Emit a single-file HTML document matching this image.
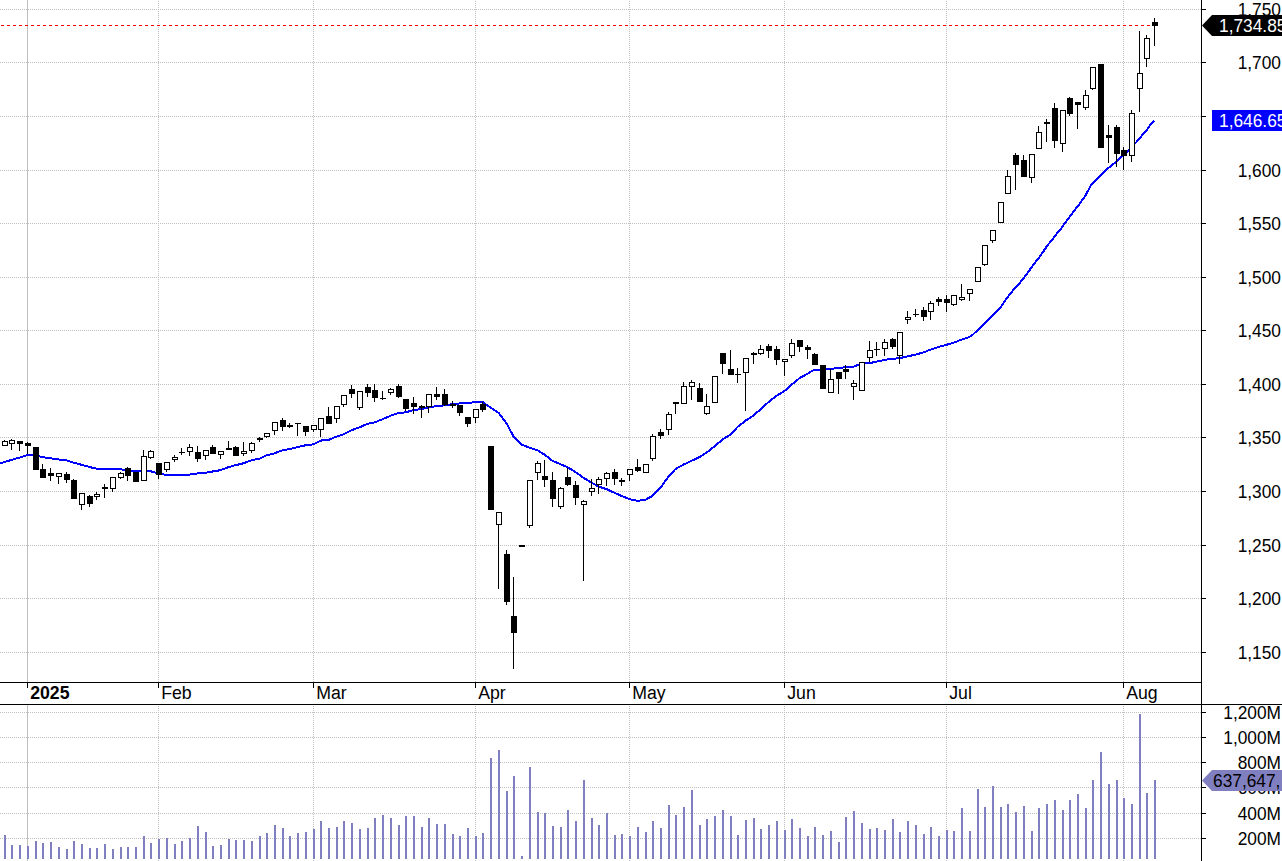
<!DOCTYPE html>
<html><head><meta charset="utf-8"><title>chart</title>
<style>
html,body{margin:0;padding:0;background:#fff;}
body{width:1282px;height:861px;overflow:hidden;position:relative;font-family:"Liberation Sans",sans-serif;}
svg{position:absolute;left:0;top:0;display:block;}
svg text{font-family:"Liberation Sans",sans-serif;}
</style></head><body>
<svg width="1282" height="861" viewBox="0 0 1282 861">
<rect width="1282" height="861" fill="#fff"/>
<g shape-rendering="crispEdges">
<line x1="0" y1="9.5" x2="1201" y2="9.5" stroke="#c0c0c0" stroke-width="1" stroke-dasharray="1 1" stroke-dashoffset="0"/>
<line x1="0" y1="62.5" x2="1201" y2="62.5" stroke="#c0c0c0" stroke-width="1" stroke-dasharray="1 1" stroke-dashoffset="0"/>
<line x1="0" y1="116.5" x2="1201" y2="116.5" stroke="#c0c0c0" stroke-width="1" stroke-dasharray="1 1" stroke-dashoffset="0"/>
<line x1="0" y1="170.5" x2="1201" y2="170.5" stroke="#c0c0c0" stroke-width="1" stroke-dasharray="1 1" stroke-dashoffset="0"/>
<line x1="0" y1="223.5" x2="1201" y2="223.5" stroke="#c0c0c0" stroke-width="1" stroke-dasharray="1 1" stroke-dashoffset="0"/>
<line x1="0" y1="277.5" x2="1201" y2="277.5" stroke="#c0c0c0" stroke-width="1" stroke-dasharray="1 1" stroke-dashoffset="0"/>
<line x1="0" y1="330.5" x2="1201" y2="330.5" stroke="#c0c0c0" stroke-width="1" stroke-dasharray="1 1" stroke-dashoffset="0"/>
<line x1="0" y1="384.5" x2="1201" y2="384.5" stroke="#c0c0c0" stroke-width="1" stroke-dasharray="1 1" stroke-dashoffset="0"/>
<line x1="0" y1="437.5" x2="1201" y2="437.5" stroke="#c0c0c0" stroke-width="1" stroke-dasharray="1 1" stroke-dashoffset="0"/>
<line x1="0" y1="491.5" x2="1201" y2="491.5" stroke="#c0c0c0" stroke-width="1" stroke-dasharray="1 1" stroke-dashoffset="0"/>
<line x1="0" y1="545.5" x2="1201" y2="545.5" stroke="#c0c0c0" stroke-width="1" stroke-dasharray="1 1" stroke-dashoffset="0"/>
<line x1="0" y1="598.5" x2="1201" y2="598.5" stroke="#c0c0c0" stroke-width="1" stroke-dasharray="1 1" stroke-dashoffset="0"/>
<line x1="0" y1="652.5" x2="1201" y2="652.5" stroke="#c0c0c0" stroke-width="1" stroke-dasharray="1 1" stroke-dashoffset="0"/>
<line x1="0" y1="712.5" x2="1201" y2="712.5" stroke="#c0c0c0" stroke-width="1" stroke-dasharray="1 1" stroke-dashoffset="0"/>
<line x1="0" y1="737.5" x2="1201" y2="737.5" stroke="#c0c0c0" stroke-width="1" stroke-dasharray="1 1" stroke-dashoffset="0"/>
<line x1="0" y1="762.5" x2="1201" y2="762.5" stroke="#c0c0c0" stroke-width="1" stroke-dasharray="1 1" stroke-dashoffset="0"/>
<line x1="0" y1="787.5" x2="1201" y2="787.5" stroke="#c0c0c0" stroke-width="1" stroke-dasharray="1 1" stroke-dashoffset="0"/>
<line x1="0" y1="813.5" x2="1201" y2="813.5" stroke="#c0c0c0" stroke-width="1" stroke-dasharray="1 1" stroke-dashoffset="0"/>
<line x1="0" y1="838.5" x2="1201" y2="838.5" stroke="#c0c0c0" stroke-width="1" stroke-dasharray="1 1" stroke-dashoffset="0"/>
<rect x="27" y="0" width="1" height="682" fill="#c0c0c0"/>
<rect x="27" y="705" width="1" height="156" fill="#c0c0c0"/>
<line x1="158.5" y1="0" x2="158.5" y2="682" stroke="#c0c0c0" stroke-width="1" stroke-dasharray="1 1" stroke-dashoffset="1"/>
<line x1="158.5" y1="705" x2="158.5" y2="861" stroke="#c0c0c0" stroke-width="1" stroke-dasharray="1 1" stroke-dashoffset="1"/>
<line x1="313.5" y1="0" x2="313.5" y2="682" stroke="#c0c0c0" stroke-width="1" stroke-dasharray="1 1" stroke-dashoffset="1"/>
<line x1="313.5" y1="705" x2="313.5" y2="861" stroke="#c0c0c0" stroke-width="1" stroke-dasharray="1 1" stroke-dashoffset="1"/>
<line x1="475.5" y1="0" x2="475.5" y2="682" stroke="#c0c0c0" stroke-width="1" stroke-dasharray="1 1" stroke-dashoffset="1"/>
<line x1="475.5" y1="705" x2="475.5" y2="861" stroke="#c0c0c0" stroke-width="1" stroke-dasharray="1 1" stroke-dashoffset="1"/>
<line x1="629.5" y1="0" x2="629.5" y2="682" stroke="#c0c0c0" stroke-width="1" stroke-dasharray="1 1" stroke-dashoffset="1"/>
<line x1="629.5" y1="705" x2="629.5" y2="861" stroke="#c0c0c0" stroke-width="1" stroke-dasharray="1 1" stroke-dashoffset="1"/>
<line x1="784.5" y1="0" x2="784.5" y2="682" stroke="#c0c0c0" stroke-width="1" stroke-dasharray="1 1" stroke-dashoffset="1"/>
<line x1="784.5" y1="705" x2="784.5" y2="861" stroke="#c0c0c0" stroke-width="1" stroke-dasharray="1 1" stroke-dashoffset="1"/>
<line x1="946.5" y1="0" x2="946.5" y2="682" stroke="#c0c0c0" stroke-width="1" stroke-dasharray="1 1" stroke-dashoffset="1"/>
<line x1="946.5" y1="705" x2="946.5" y2="861" stroke="#c0c0c0" stroke-width="1" stroke-dasharray="1 1" stroke-dashoffset="1"/>
<line x1="1123.5" y1="0" x2="1123.5" y2="682" stroke="#c0c0c0" stroke-width="1" stroke-dasharray="1 1" stroke-dashoffset="1"/>
<line x1="1123.5" y1="705" x2="1123.5" y2="861" stroke="#c0c0c0" stroke-width="1" stroke-dasharray="1 1" stroke-dashoffset="1"/>
<line x1="1" y1="25.5" x2="1152" y2="25.5" stroke="#ff0000" stroke-width="1" stroke-dasharray="3 3"/>
<rect x="4" y="835" width="2" height="24" fill="#8080c0"/>
<rect x="11" y="845" width="2" height="14" fill="#8080c0"/>
<rect x="19" y="845" width="2" height="14" fill="#8080c0"/>
<rect x="27" y="846" width="2" height="13" fill="#8080c0"/>
<rect x="35" y="841" width="2" height="18" fill="#8080c0"/>
<rect x="42" y="843" width="2" height="16" fill="#8080c0"/>
<rect x="50" y="842" width="2" height="17" fill="#8080c0"/>
<rect x="58" y="847" width="2" height="12" fill="#8080c0"/>
<rect x="66" y="849" width="2" height="10" fill="#8080c0"/>
<rect x="73" y="841" width="2" height="18" fill="#8080c0"/>
<rect x="81" y="844" width="2" height="15" fill="#8080c0"/>
<rect x="89" y="848" width="2" height="11" fill="#8080c0"/>
<rect x="96" y="848" width="2" height="11" fill="#8080c0"/>
<rect x="104" y="844" width="2" height="15" fill="#8080c0"/>
<rect x="112" y="849" width="2" height="10" fill="#8080c0"/>
<rect x="120" y="847" width="2" height="12" fill="#8080c0"/>
<rect x="127" y="847" width="2" height="12" fill="#8080c0"/>
<rect x="135" y="847" width="2" height="12" fill="#8080c0"/>
<rect x="143" y="836" width="2" height="23" fill="#8080c0"/>
<rect x="150" y="843" width="2" height="16" fill="#8080c0"/>
<rect x="158" y="839" width="2" height="20" fill="#8080c0"/>
<rect x="166" y="838" width="2" height="21" fill="#8080c0"/>
<rect x="174" y="844" width="2" height="15" fill="#8080c0"/>
<rect x="181" y="841" width="2" height="18" fill="#8080c0"/>
<rect x="189" y="838" width="2" height="21" fill="#8080c0"/>
<rect x="197" y="826" width="2" height="33" fill="#8080c0"/>
<rect x="205" y="832" width="2" height="27" fill="#8080c0"/>
<rect x="212" y="846" width="2" height="13" fill="#8080c0"/>
<rect x="220" y="845" width="2" height="14" fill="#8080c0"/>
<rect x="228" y="839" width="2" height="20" fill="#8080c0"/>
<rect x="235" y="840" width="2" height="19" fill="#8080c0"/>
<rect x="243" y="840" width="2" height="19" fill="#8080c0"/>
<rect x="251" y="841" width="2" height="18" fill="#8080c0"/>
<rect x="259" y="836" width="2" height="23" fill="#8080c0"/>
<rect x="266" y="833" width="2" height="26" fill="#8080c0"/>
<rect x="274" y="825" width="2" height="34" fill="#8080c0"/>
<rect x="282" y="828" width="2" height="31" fill="#8080c0"/>
<rect x="289" y="836" width="2" height="23" fill="#8080c0"/>
<rect x="297" y="833" width="2" height="26" fill="#8080c0"/>
<rect x="305" y="832" width="2" height="27" fill="#8080c0"/>
<rect x="313" y="829" width="2" height="30" fill="#8080c0"/>
<rect x="320" y="821" width="2" height="38" fill="#8080c0"/>
<rect x="328" y="828" width="2" height="31" fill="#8080c0"/>
<rect x="336" y="827" width="2" height="32" fill="#8080c0"/>
<rect x="343" y="821" width="2" height="38" fill="#8080c0"/>
<rect x="351" y="823" width="2" height="36" fill="#8080c0"/>
<rect x="359" y="829" width="2" height="30" fill="#8080c0"/>
<rect x="367" y="828" width="2" height="31" fill="#8080c0"/>
<rect x="374" y="818" width="2" height="41" fill="#8080c0"/>
<rect x="382" y="815" width="2" height="44" fill="#8080c0"/>
<rect x="390" y="818" width="2" height="41" fill="#8080c0"/>
<rect x="398" y="825" width="2" height="34" fill="#8080c0"/>
<rect x="405" y="816" width="2" height="43" fill="#8080c0"/>
<rect x="413" y="816" width="2" height="43" fill="#8080c0"/>
<rect x="421" y="827" width="2" height="32" fill="#8080c0"/>
<rect x="428" y="818" width="2" height="41" fill="#8080c0"/>
<rect x="436" y="824" width="2" height="35" fill="#8080c0"/>
<rect x="444" y="824" width="2" height="35" fill="#8080c0"/>
<rect x="452" y="834" width="2" height="25" fill="#8080c0"/>
<rect x="459" y="836" width="2" height="23" fill="#8080c0"/>
<rect x="467" y="828" width="2" height="31" fill="#8080c0"/>
<rect x="475" y="836" width="2" height="23" fill="#8080c0"/>
<rect x="482" y="833" width="2" height="26" fill="#8080c0"/>
<rect x="490" y="758" width="2" height="101" fill="#8080c0"/>
<rect x="498" y="750" width="2" height="109" fill="#8080c0"/>
<rect x="506" y="791" width="2" height="68" fill="#8080c0"/>
<rect x="513" y="776" width="2" height="83" fill="#8080c0"/>
<rect x="521" y="856" width="2" height="3" fill="#8080c0"/>
<rect x="529" y="767" width="2" height="92" fill="#8080c0"/>
<rect x="537" y="812" width="2" height="47" fill="#8080c0"/>
<rect x="544" y="813" width="2" height="46" fill="#8080c0"/>
<rect x="552" y="826" width="2" height="33" fill="#8080c0"/>
<rect x="560" y="827" width="2" height="32" fill="#8080c0"/>
<rect x="567" y="810" width="2" height="49" fill="#8080c0"/>
<rect x="575" y="821" width="2" height="38" fill="#8080c0"/>
<rect x="583" y="780" width="2" height="79" fill="#8080c0"/>
<rect x="591" y="818" width="2" height="41" fill="#8080c0"/>
<rect x="598" y="825" width="2" height="34" fill="#8080c0"/>
<rect x="606" y="813" width="2" height="46" fill="#8080c0"/>
<rect x="614" y="835" width="2" height="24" fill="#8080c0"/>
<rect x="621" y="834" width="2" height="25" fill="#8080c0"/>
<rect x="629" y="836" width="2" height="23" fill="#8080c0"/>
<rect x="637" y="827" width="2" height="32" fill="#8080c0"/>
<rect x="645" y="832" width="2" height="27" fill="#8080c0"/>
<rect x="652" y="821" width="2" height="38" fill="#8080c0"/>
<rect x="660" y="828" width="2" height="31" fill="#8080c0"/>
<rect x="668" y="805" width="2" height="54" fill="#8080c0"/>
<rect x="675" y="815" width="2" height="44" fill="#8080c0"/>
<rect x="683" y="807" width="2" height="52" fill="#8080c0"/>
<rect x="691" y="790" width="2" height="69" fill="#8080c0"/>
<rect x="699" y="825" width="2" height="34" fill="#8080c0"/>
<rect x="706" y="819" width="2" height="40" fill="#8080c0"/>
<rect x="714" y="816" width="2" height="43" fill="#8080c0"/>
<rect x="722" y="810" width="2" height="49" fill="#8080c0"/>
<rect x="730" y="816" width="2" height="43" fill="#8080c0"/>
<rect x="737" y="835" width="2" height="24" fill="#8080c0"/>
<rect x="745" y="820" width="2" height="39" fill="#8080c0"/>
<rect x="753" y="818" width="2" height="41" fill="#8080c0"/>
<rect x="760" y="829" width="2" height="30" fill="#8080c0"/>
<rect x="768" y="825" width="2" height="34" fill="#8080c0"/>
<rect x="776" y="821" width="2" height="38" fill="#8080c0"/>
<rect x="784" y="830" width="2" height="29" fill="#8080c0"/>
<rect x="791" y="819" width="2" height="40" fill="#8080c0"/>
<rect x="799" y="828" width="2" height="31" fill="#8080c0"/>
<rect x="807" y="836" width="2" height="23" fill="#8080c0"/>
<rect x="814" y="827" width="2" height="32" fill="#8080c0"/>
<rect x="822" y="835" width="2" height="24" fill="#8080c0"/>
<rect x="830" y="831" width="2" height="28" fill="#8080c0"/>
<rect x="838" y="842" width="2" height="17" fill="#8080c0"/>
<rect x="845" y="817" width="2" height="42" fill="#8080c0"/>
<rect x="853" y="811" width="2" height="48" fill="#8080c0"/>
<rect x="861" y="823" width="2" height="36" fill="#8080c0"/>
<rect x="869" y="829" width="2" height="30" fill="#8080c0"/>
<rect x="876" y="828" width="2" height="31" fill="#8080c0"/>
<rect x="884" y="830" width="2" height="29" fill="#8080c0"/>
<rect x="892" y="819" width="2" height="40" fill="#8080c0"/>
<rect x="899" y="832" width="2" height="27" fill="#8080c0"/>
<rect x="907" y="821" width="2" height="38" fill="#8080c0"/>
<rect x="915" y="825" width="2" height="34" fill="#8080c0"/>
<rect x="923" y="834" width="2" height="25" fill="#8080c0"/>
<rect x="930" y="827" width="2" height="32" fill="#8080c0"/>
<rect x="938" y="836" width="2" height="23" fill="#8080c0"/>
<rect x="946" y="830" width="2" height="29" fill="#8080c0"/>
<rect x="953" y="831" width="2" height="28" fill="#8080c0"/>
<rect x="961" y="808" width="2" height="51" fill="#8080c0"/>
<rect x="969" y="831" width="2" height="28" fill="#8080c0"/>
<rect x="977" y="789" width="2" height="70" fill="#8080c0"/>
<rect x="984" y="807" width="2" height="52" fill="#8080c0"/>
<rect x="992" y="786" width="2" height="73" fill="#8080c0"/>
<rect x="1000" y="807" width="2" height="52" fill="#8080c0"/>
<rect x="1007" y="804" width="2" height="55" fill="#8080c0"/>
<rect x="1015" y="812" width="2" height="47" fill="#8080c0"/>
<rect x="1023" y="806" width="2" height="53" fill="#8080c0"/>
<rect x="1031" y="831" width="2" height="28" fill="#8080c0"/>
<rect x="1038" y="808" width="2" height="51" fill="#8080c0"/>
<rect x="1046" y="804" width="2" height="55" fill="#8080c0"/>
<rect x="1054" y="800" width="2" height="59" fill="#8080c0"/>
<rect x="1062" y="810" width="2" height="49" fill="#8080c0"/>
<rect x="1069" y="800" width="2" height="59" fill="#8080c0"/>
<rect x="1077" y="794" width="2" height="65" fill="#8080c0"/>
<rect x="1085" y="808" width="2" height="51" fill="#8080c0"/>
<rect x="1092" y="780" width="2" height="79" fill="#8080c0"/>
<rect x="1100" y="752" width="2" height="107" fill="#8080c0"/>
<rect x="1108" y="784" width="2" height="75" fill="#8080c0"/>
<rect x="1116" y="780" width="2" height="79" fill="#8080c0"/>
<rect x="1123" y="798" width="2" height="61" fill="#8080c0"/>
<rect x="1131" y="804" width="2" height="55" fill="#8080c0"/>
<rect x="1139" y="714" width="2" height="145" fill="#8080c0"/>
<rect x="1146" y="793" width="2" height="66" fill="#8080c0"/>
<rect x="1154" y="780" width="2" height="79" fill="#8080c0"/>
<polyline points="0,463.3 4.5,462.0 11.5,459.9 19.5,457.6 27.5,454.9 35.5,455.5 42.5,457.2 50.5,458.2 58.5,459.5 66.5,460.4 73.5,462.6 81.5,464.8 89.5,467.0 96.5,468.7 104.5,468.9 112.5,468.9 120.5,469.2 127.5,470.8 135.5,471.0 143.5,471.0 150.5,471.2 158.5,473.4 166.5,474.9 174.5,474.9 181.5,474.9 189.5,474.6 197.5,473.4 205.5,472.7 212.5,471.5 220.5,470.2 228.5,467.1 235.5,465.2 243.5,463.3 251.5,460.2 259.5,458.7 266.5,455.4 274.5,453.3 282.5,450.2 289.5,449.2 297.5,447.0 305.5,445.3 313.5,444.3 320.5,440.6 328.5,439.9 336.5,436.6 343.5,434.4 351.5,430.2 359.5,427.3 367.5,423.9 374.5,422.4 382.5,419.2 390.5,415.8 398.5,412.9 405.5,412.4 413.5,410.1 421.5,409.1 428.5,407.4 436.5,406.1 444.5,405.4 452.5,404.2 459.5,403.5 467.5,402.9 475.5,402.2 482.5,401.9 490.5,407.6 498.5,412.8 506.5,423.2 513.5,436.4 521.5,444.6 529.5,447.7 537.5,450.2 544.5,454.6 552.5,460.9 560.5,464.2 567.5,467.1 575.5,472.1 583.5,477.8 591.5,482.6 598.5,486.6 606.5,489.1 614.5,492.8 621.5,495.9 629.5,499.1 637.5,500.9 645.5,499.7 652.5,495.9 660.5,487.8 668.5,476.5 675.5,469.0 683.5,464.6 691.5,460.8 699.5,457.1 706.5,452.7 714.5,446.4 722.5,439.5 730.5,434.5 737.5,427.0 745.5,420.7 753.5,415.5 760.5,409.3 768.5,402.1 776.5,395.8 784.5,391.0 791.5,384.8 799.5,378.2 807.5,373.8 814.5,369.5 822.5,369.5 830.5,369.0 838.5,367.8 845.5,367.3 853.5,366.7 861.5,363.6 869.5,363.2 876.5,361.6 884.5,359.9 892.5,358.8 899.5,358.2 907.5,356.4 915.5,354.6 923.5,352.4 930.5,349.6 938.5,347.0 946.5,344.8 953.5,342.8 960.0,340.2 968.0,337.4 972.0,335.4 976.0,331.7 980.8,327.0 987.7,320.5 992.1,316.2 996.5,311.1 1001.7,305.9 1004.9,300.7 1009.7,294.6 1014.5,288.6 1019.7,283.0 1026.5,274.5 1033.4,264.7 1040.3,256.0 1047.1,245.9 1049.0,243.5 1054.3,237.1 1057.15,233.2 1060.7,229.0 1064.7,223.4 1071.1,215.0 1076.2,208.0 1078.3,205.6 1080.2,202.9 1084.6,196.9 1088.2,190.5 1091.45,184.5 1097.1,179.3 1102.7,173.7 1108.3,168.1 1112.3,164.9 1116.3,161.6 1120.3,157.6 1127.5,151.2 1135.65,142.9 1142.1,135.3 1146.9,130.1 1150.9,124.0 1154.5,120.6" fill="none" stroke="#0000ff" stroke-width="2" stroke-linejoin="round"/>
<rect x="4" y="440" width="1" height="6" fill="#000"/>
<rect x="2" y="441" width="6" height="5" fill="#000"/>
<rect x="3" y="442" width="4" height="3" fill="#fff"/>
<rect x="11" y="439" width="1" height="11" fill="#000"/>
<rect x="9" y="440" width="6" height="4" fill="#000"/>
<rect x="10" y="441" width="4" height="2" fill="#fff"/>
<rect x="19" y="441" width="1" height="10" fill="#000"/>
<rect x="17" y="441" width="6" height="3" fill="#000"/>
<rect x="27" y="442" width="1" height="12" fill="#000"/>
<rect x="25" y="443" width="6" height="3" fill="#000"/>
<rect x="35" y="447" width="1" height="23" fill="#000"/>
<rect x="33" y="447" width="6" height="23" fill="#000"/>
<rect x="42" y="464" width="1" height="14" fill="#000"/>
<rect x="40" y="469" width="6" height="9" fill="#000"/>
<rect x="50" y="468" width="1" height="13" fill="#000"/>
<rect x="48" y="473" width="6" height="3" fill="#000"/>
<rect x="58" y="473" width="1" height="11" fill="#000"/>
<rect x="56" y="473" width="6" height="4" fill="#000"/>
<rect x="57" y="474" width="4" height="2" fill="#fff"/>
<rect x="66" y="472" width="1" height="11" fill="#000"/>
<rect x="64" y="474" width="6" height="6" fill="#000"/>
<rect x="73" y="479" width="1" height="20" fill="#000"/>
<rect x="71" y="480" width="6" height="19" fill="#000"/>
<rect x="81" y="493" width="1" height="17" fill="#000"/>
<rect x="79" y="493" width="6" height="12" fill="#000"/>
<rect x="80" y="494" width="4" height="10" fill="#fff"/>
<rect x="89" y="495" width="1" height="12" fill="#000"/>
<rect x="87" y="496" width="6" height="8" fill="#000"/>
<rect x="96" y="492" width="1" height="8" fill="#000"/>
<rect x="94" y="494" width="6" height="3" fill="#000"/>
<rect x="95" y="495" width="4" height="1" fill="#fff"/>
<rect x="104" y="484" width="1" height="14" fill="#000"/>
<rect x="102" y="487" width="6" height="2" fill="#000"/>
<rect x="112" y="477" width="1" height="15" fill="#000"/>
<rect x="110" y="477" width="6" height="12" fill="#000"/>
<rect x="111" y="478" width="4" height="10" fill="#fff"/>
<rect x="120" y="472" width="1" height="7" fill="#000"/>
<rect x="118" y="473" width="6" height="5" fill="#000"/>
<rect x="119" y="474" width="4" height="3" fill="#fff"/>
<rect x="127" y="467" width="1" height="14" fill="#000"/>
<rect x="125" y="468" width="6" height="8" fill="#000"/>
<rect x="135" y="472" width="1" height="10" fill="#000"/>
<rect x="133" y="472" width="6" height="10" fill="#000"/>
<rect x="143" y="450" width="1" height="31" fill="#000"/>
<rect x="141" y="456" width="6" height="25" fill="#000"/>
<rect x="142" y="457" width="4" height="23" fill="#fff"/>
<rect x="150" y="450" width="1" height="9" fill="#000"/>
<rect x="148" y="451" width="6" height="7" fill="#000"/>
<rect x="149" y="452" width="4" height="5" fill="#fff"/>
<rect x="158" y="463" width="1" height="16" fill="#000"/>
<rect x="156" y="463" width="6" height="12" fill="#000"/>
<rect x="166" y="462" width="1" height="10" fill="#000"/>
<rect x="164" y="462" width="6" height="8" fill="#000"/>
<rect x="165" y="463" width="4" height="6" fill="#fff"/>
<rect x="174" y="455" width="1" height="7" fill="#000"/>
<rect x="172" y="457" width="6" height="3" fill="#000"/>
<rect x="173" y="458" width="4" height="1" fill="#fff"/>
<rect x="181" y="448" width="1" height="7" fill="#000"/>
<rect x="179" y="452" width="6" height="1" fill="#000"/>
<rect x="189" y="444" width="1" height="12" fill="#000"/>
<rect x="187" y="447" width="6" height="5" fill="#000"/>
<rect x="188" y="448" width="4" height="3" fill="#fff"/>
<rect x="197" y="446" width="1" height="16" fill="#000"/>
<rect x="195" y="452" width="6" height="7" fill="#000"/>
<rect x="205" y="450" width="1" height="10" fill="#000"/>
<rect x="203" y="450" width="6" height="6" fill="#000"/>
<rect x="204" y="451" width="4" height="4" fill="#fff"/>
<rect x="212" y="445" width="1" height="9" fill="#000"/>
<rect x="210" y="447" width="6" height="7" fill="#000"/>
<rect x="220" y="451" width="1" height="8" fill="#000"/>
<rect x="218" y="451" width="6" height="4" fill="#000"/>
<rect x="219" y="452" width="4" height="2" fill="#fff"/>
<rect x="228" y="441" width="1" height="9" fill="#000"/>
<rect x="226" y="448" width="6" height="2" fill="#000"/>
<rect x="235" y="446" width="1" height="10" fill="#000"/>
<rect x="233" y="447" width="6" height="9" fill="#000"/>
<rect x="243" y="442" width="1" height="14" fill="#000"/>
<rect x="241" y="451" width="6" height="3" fill="#000"/>
<rect x="242" y="452" width="4" height="1" fill="#fff"/>
<rect x="251" y="442" width="1" height="11" fill="#000"/>
<rect x="249" y="443" width="6" height="8" fill="#000"/>
<rect x="250" y="444" width="4" height="6" fill="#fff"/>
<rect x="259" y="437" width="1" height="5" fill="#000"/>
<rect x="257" y="438" width="6" height="2" fill="#000"/>
<rect x="266" y="433" width="1" height="5" fill="#000"/>
<rect x="264" y="433" width="6" height="4" fill="#000"/>
<rect x="265" y="434" width="4" height="2" fill="#fff"/>
<rect x="274" y="422" width="1" height="13" fill="#000"/>
<rect x="272" y="422" width="6" height="9" fill="#000"/>
<rect x="273" y="423" width="4" height="7" fill="#fff"/>
<rect x="282" y="418" width="1" height="13" fill="#000"/>
<rect x="280" y="420" width="6" height="7" fill="#000"/>
<rect x="289" y="423" width="1" height="5" fill="#000"/>
<rect x="287" y="425" width="6" height="2" fill="#000"/>
<rect x="297" y="423" width="1" height="13" fill="#000"/>
<rect x="295" y="423" width="6" height="1" fill="#000"/>
<rect x="305" y="426" width="1" height="10" fill="#000"/>
<rect x="303" y="426" width="6" height="6" fill="#000"/>
<rect x="313" y="425" width="1" height="7" fill="#000"/>
<rect x="311" y="425" width="6" height="5" fill="#000"/>
<rect x="312" y="426" width="4" height="3" fill="#fff"/>
<rect x="320" y="418" width="1" height="19" fill="#000"/>
<rect x="318" y="418" width="6" height="12" fill="#000"/>
<rect x="319" y="419" width="4" height="10" fill="#fff"/>
<rect x="328" y="407" width="1" height="17" fill="#000"/>
<rect x="326" y="416" width="6" height="8" fill="#000"/>
<rect x="336" y="406" width="1" height="17" fill="#000"/>
<rect x="334" y="406" width="6" height="13" fill="#000"/>
<rect x="335" y="407" width="4" height="11" fill="#fff"/>
<rect x="343" y="395" width="1" height="12" fill="#000"/>
<rect x="341" y="395" width="6" height="10" fill="#000"/>
<rect x="342" y="396" width="4" height="8" fill="#fff"/>
<rect x="351" y="385" width="1" height="13" fill="#000"/>
<rect x="349" y="389" width="6" height="5" fill="#000"/>
<rect x="359" y="391" width="1" height="19" fill="#000"/>
<rect x="357" y="391" width="6" height="17" fill="#000"/>
<rect x="358" y="392" width="4" height="15" fill="#fff"/>
<rect x="367" y="384" width="1" height="13" fill="#000"/>
<rect x="365" y="387" width="6" height="6" fill="#000"/>
<rect x="374" y="384" width="1" height="18" fill="#000"/>
<rect x="372" y="390" width="6" height="8" fill="#000"/>
<rect x="382" y="391" width="1" height="9" fill="#000"/>
<rect x="380" y="398" width="6" height="1" fill="#000"/>
<rect x="390" y="388" width="1" height="7" fill="#000"/>
<rect x="388" y="389" width="6" height="4" fill="#000"/>
<rect x="389" y="390" width="4" height="2" fill="#fff"/>
<rect x="398" y="384" width="1" height="14" fill="#000"/>
<rect x="396" y="386" width="6" height="11" fill="#000"/>
<rect x="405" y="399" width="1" height="12" fill="#000"/>
<rect x="403" y="399" width="6" height="10" fill="#000"/>
<rect x="413" y="397" width="1" height="17" fill="#000"/>
<rect x="411" y="403" width="6" height="4" fill="#000"/>
<rect x="421" y="405" width="1" height="13" fill="#000"/>
<rect x="419" y="406" width="6" height="2" fill="#000"/>
<rect x="428" y="394" width="1" height="19" fill="#000"/>
<rect x="426" y="394" width="6" height="13" fill="#000"/>
<rect x="427" y="395" width="4" height="11" fill="#fff"/>
<rect x="436" y="387" width="1" height="13" fill="#000"/>
<rect x="434" y="394" width="6" height="3" fill="#000"/>
<rect x="444" y="389" width="1" height="17" fill="#000"/>
<rect x="442" y="394" width="6" height="11" fill="#000"/>
<rect x="452" y="401" width="1" height="7" fill="#000"/>
<rect x="450" y="404" width="6" height="2" fill="#000"/>
<rect x="459" y="405" width="1" height="11" fill="#000"/>
<rect x="457" y="405" width="6" height="8" fill="#000"/>
<rect x="467" y="417" width="1" height="10" fill="#000"/>
<rect x="465" y="417" width="6" height="7" fill="#000"/>
<rect x="475" y="409" width="1" height="14" fill="#000"/>
<rect x="473" y="409" width="6" height="9" fill="#000"/>
<rect x="474" y="410" width="4" height="7" fill="#fff"/>
<rect x="482" y="402" width="1" height="10" fill="#000"/>
<rect x="480" y="404" width="6" height="6" fill="#000"/>
<rect x="490" y="446" width="1" height="64" fill="#000"/>
<rect x="488" y="446" width="6" height="64" fill="#000"/>
<rect x="498" y="512" width="1" height="77" fill="#000"/>
<rect x="496" y="512" width="6" height="13" fill="#000"/>
<rect x="497" y="513" width="4" height="11" fill="#fff"/>
<rect x="506" y="550" width="1" height="55" fill="#000"/>
<rect x="504" y="554" width="6" height="48" fill="#000"/>
<rect x="513" y="577" width="1" height="92" fill="#000"/>
<rect x="511" y="616" width="6" height="17" fill="#000"/>
<rect x="521" y="545" width="1" height="2" fill="#000"/>
<rect x="519" y="545" width="6" height="2" fill="#000"/>
<rect x="529" y="480" width="1" height="48" fill="#000"/>
<rect x="527" y="480" width="6" height="46" fill="#000"/>
<rect x="528" y="481" width="4" height="44" fill="#fff"/>
<rect x="537" y="461" width="1" height="19" fill="#000"/>
<rect x="535" y="463" width="6" height="10" fill="#000"/>
<rect x="536" y="464" width="4" height="8" fill="#fff"/>
<rect x="544" y="460" width="1" height="27" fill="#000"/>
<rect x="542" y="476" width="6" height="4" fill="#000"/>
<rect x="552" y="472" width="1" height="35" fill="#000"/>
<rect x="550" y="480" width="6" height="19" fill="#000"/>
<rect x="560" y="487" width="1" height="22" fill="#000"/>
<rect x="558" y="488" width="6" height="19" fill="#000"/>
<rect x="559" y="489" width="4" height="17" fill="#fff"/>
<rect x="567" y="468" width="1" height="18" fill="#000"/>
<rect x="565" y="477" width="6" height="8" fill="#000"/>
<rect x="575" y="481" width="1" height="24" fill="#000"/>
<rect x="573" y="485" width="6" height="13" fill="#000"/>
<rect x="583" y="500" width="1" height="81" fill="#000"/>
<rect x="581" y="501" width="6" height="4" fill="#000"/>
<rect x="582" y="502" width="4" height="2" fill="#fff"/>
<rect x="591" y="479" width="1" height="17" fill="#000"/>
<rect x="589" y="488" width="6" height="4" fill="#000"/>
<rect x="590" y="489" width="4" height="2" fill="#fff"/>
<rect x="598" y="477" width="1" height="17" fill="#000"/>
<rect x="596" y="479" width="6" height="6" fill="#000"/>
<rect x="597" y="480" width="4" height="4" fill="#fff"/>
<rect x="606" y="472" width="1" height="14" fill="#000"/>
<rect x="604" y="473" width="6" height="6" fill="#000"/>
<rect x="605" y="474" width="4" height="4" fill="#fff"/>
<rect x="614" y="469" width="1" height="16" fill="#000"/>
<rect x="612" y="472" width="6" height="7" fill="#000"/>
<rect x="621" y="478" width="1" height="8" fill="#000"/>
<rect x="619" y="480" width="6" height="2" fill="#000"/>
<rect x="629" y="469" width="1" height="12" fill="#000"/>
<rect x="627" y="469" width="6" height="6" fill="#000"/>
<rect x="628" y="470" width="4" height="4" fill="#fff"/>
<rect x="637" y="459" width="1" height="13" fill="#000"/>
<rect x="635" y="467" width="6" height="4" fill="#000"/>
<rect x="645" y="464" width="1" height="9" fill="#000"/>
<rect x="643" y="464" width="6" height="9" fill="#000"/>
<rect x="644" y="465" width="4" height="7" fill="#fff"/>
<rect x="652" y="434" width="1" height="27" fill="#000"/>
<rect x="650" y="436" width="6" height="23" fill="#000"/>
<rect x="651" y="437" width="4" height="21" fill="#fff"/>
<rect x="660" y="429" width="1" height="10" fill="#000"/>
<rect x="658" y="432" width="6" height="4" fill="#000"/>
<rect x="668" y="412" width="1" height="23" fill="#000"/>
<rect x="666" y="414" width="6" height="16" fill="#000"/>
<rect x="667" y="415" width="4" height="14" fill="#fff"/>
<rect x="675" y="402" width="1" height="12" fill="#000"/>
<rect x="673" y="402" width="6" height="2" fill="#000"/>
<rect x="683" y="382" width="1" height="22" fill="#000"/>
<rect x="681" y="386" width="6" height="18" fill="#000"/>
<rect x="682" y="387" width="4" height="16" fill="#fff"/>
<rect x="691" y="380" width="1" height="20" fill="#000"/>
<rect x="689" y="382" width="6" height="5" fill="#000"/>
<rect x="690" y="383" width="4" height="3" fill="#fff"/>
<rect x="699" y="383" width="1" height="19" fill="#000"/>
<rect x="697" y="388" width="6" height="14" fill="#000"/>
<rect x="706" y="394" width="1" height="21" fill="#000"/>
<rect x="704" y="406" width="6" height="8" fill="#000"/>
<rect x="705" y="407" width="4" height="6" fill="#fff"/>
<rect x="714" y="376" width="1" height="27" fill="#000"/>
<rect x="712" y="376" width="6" height="27" fill="#000"/>
<rect x="713" y="377" width="4" height="25" fill="#fff"/>
<rect x="722" y="353" width="1" height="21" fill="#000"/>
<rect x="720" y="353" width="6" height="11" fill="#000"/>
<rect x="730" y="350" width="1" height="25" fill="#000"/>
<rect x="728" y="369" width="6" height="6" fill="#000"/>
<rect x="737" y="368" width="1" height="15" fill="#000"/>
<rect x="735" y="374" width="6" height="1" fill="#000"/>
<rect x="745" y="358" width="1" height="53" fill="#000"/>
<rect x="743" y="358" width="6" height="15" fill="#000"/>
<rect x="744" y="359" width="4" height="13" fill="#fff"/>
<rect x="753" y="352" width="1" height="12" fill="#000"/>
<rect x="751" y="353" width="6" height="2" fill="#000"/>
<rect x="760" y="345" width="1" height="10" fill="#000"/>
<rect x="758" y="349" width="6" height="5" fill="#000"/>
<rect x="759" y="350" width="4" height="3" fill="#fff"/>
<rect x="768" y="344" width="1" height="14" fill="#000"/>
<rect x="766" y="346" width="6" height="5" fill="#000"/>
<rect x="776" y="346" width="1" height="19" fill="#000"/>
<rect x="774" y="349" width="6" height="11" fill="#000"/>
<rect x="784" y="359" width="1" height="17" fill="#000"/>
<rect x="782" y="359" width="6" height="3" fill="#000"/>
<rect x="783" y="360" width="4" height="1" fill="#fff"/>
<rect x="791" y="339" width="1" height="19" fill="#000"/>
<rect x="789" y="343" width="6" height="13" fill="#000"/>
<rect x="790" y="344" width="4" height="11" fill="#fff"/>
<rect x="799" y="340" width="1" height="12" fill="#000"/>
<rect x="797" y="340" width="6" height="7" fill="#000"/>
<rect x="807" y="345" width="1" height="14" fill="#000"/>
<rect x="805" y="347" width="6" height="3" fill="#000"/>
<rect x="814" y="353" width="1" height="12" fill="#000"/>
<rect x="812" y="354" width="6" height="11" fill="#000"/>
<rect x="822" y="365" width="1" height="24" fill="#000"/>
<rect x="820" y="365" width="6" height="24" fill="#000"/>
<rect x="830" y="369" width="1" height="24" fill="#000"/>
<rect x="828" y="379" width="6" height="14" fill="#000"/>
<rect x="829" y="380" width="4" height="12" fill="#fff"/>
<rect x="838" y="372" width="1" height="22" fill="#000"/>
<rect x="836" y="372" width="6" height="7" fill="#000"/>
<rect x="845" y="365" width="1" height="14" fill="#000"/>
<rect x="843" y="369" width="6" height="3" fill="#000"/>
<rect x="853" y="380" width="1" height="20" fill="#000"/>
<rect x="851" y="383" width="6" height="4" fill="#000"/>
<rect x="852" y="384" width="4" height="2" fill="#fff"/>
<rect x="861" y="362" width="1" height="29" fill="#000"/>
<rect x="859" y="362" width="6" height="29" fill="#000"/>
<rect x="860" y="363" width="4" height="27" fill="#fff"/>
<rect x="869" y="341" width="1" height="21" fill="#000"/>
<rect x="867" y="350" width="6" height="8" fill="#000"/>
<rect x="868" y="351" width="4" height="6" fill="#fff"/>
<rect x="876" y="342" width="1" height="14" fill="#000"/>
<rect x="874" y="349" width="6" height="1" fill="#000"/>
<rect x="884" y="339" width="1" height="17" fill="#000"/>
<rect x="882" y="342" width="6" height="7" fill="#000"/>
<rect x="883" y="343" width="4" height="5" fill="#fff"/>
<rect x="892" y="338" width="1" height="11" fill="#000"/>
<rect x="890" y="339" width="6" height="8" fill="#000"/>
<rect x="899" y="332" width="1" height="32" fill="#000"/>
<rect x="897" y="332" width="6" height="24" fill="#000"/>
<rect x="898" y="333" width="4" height="22" fill="#fff"/>
<rect x="907" y="311" width="1" height="13" fill="#000"/>
<rect x="905" y="317" width="6" height="3" fill="#000"/>
<rect x="906" y="318" width="4" height="1" fill="#fff"/>
<rect x="915" y="309" width="1" height="8" fill="#000"/>
<rect x="913" y="314" width="6" height="1" fill="#000"/>
<rect x="923" y="307" width="1" height="14" fill="#000"/>
<rect x="921" y="310" width="6" height="7" fill="#000"/>
<rect x="930" y="301" width="1" height="19" fill="#000"/>
<rect x="928" y="303" width="6" height="9" fill="#000"/>
<rect x="929" y="304" width="4" height="7" fill="#fff"/>
<rect x="938" y="297" width="1" height="9" fill="#000"/>
<rect x="936" y="299" width="6" height="3" fill="#000"/>
<rect x="946" y="295" width="1" height="17" fill="#000"/>
<rect x="944" y="299" width="6" height="4" fill="#000"/>
<rect x="953" y="295" width="1" height="11" fill="#000"/>
<rect x="951" y="295" width="6" height="10" fill="#000"/>
<rect x="952" y="296" width="4" height="8" fill="#fff"/>
<rect x="961" y="284" width="1" height="17" fill="#000"/>
<rect x="959" y="297" width="6" height="3" fill="#000"/>
<rect x="960" y="298" width="4" height="1" fill="#fff"/>
<rect x="969" y="289" width="1" height="12" fill="#000"/>
<rect x="967" y="289" width="6" height="5" fill="#000"/>
<rect x="968" y="290" width="4" height="3" fill="#fff"/>
<rect x="977" y="267" width="1" height="15" fill="#000"/>
<rect x="975" y="267" width="6" height="15" fill="#000"/>
<rect x="976" y="268" width="4" height="13" fill="#fff"/>
<rect x="984" y="245" width="1" height="21" fill="#000"/>
<rect x="982" y="245" width="6" height="20" fill="#000"/>
<rect x="983" y="246" width="4" height="18" fill="#fff"/>
<rect x="992" y="230" width="1" height="13" fill="#000"/>
<rect x="990" y="230" width="6" height="11" fill="#000"/>
<rect x="991" y="231" width="4" height="9" fill="#fff"/>
<rect x="1000" y="202" width="1" height="21" fill="#000"/>
<rect x="998" y="202" width="6" height="21" fill="#000"/>
<rect x="999" y="203" width="4" height="19" fill="#fff"/>
<rect x="1007" y="170" width="1" height="24" fill="#000"/>
<rect x="1005" y="176" width="6" height="18" fill="#000"/>
<rect x="1006" y="177" width="4" height="16" fill="#fff"/>
<rect x="1015" y="153" width="1" height="37" fill="#000"/>
<rect x="1013" y="155" width="6" height="10" fill="#000"/>
<rect x="1023" y="155" width="1" height="22" fill="#000"/>
<rect x="1021" y="160" width="6" height="17" fill="#000"/>
<rect x="1031" y="154" width="1" height="29" fill="#000"/>
<rect x="1029" y="154" width="6" height="24" fill="#000"/>
<rect x="1030" y="155" width="4" height="22" fill="#fff"/>
<rect x="1038" y="126" width="1" height="23" fill="#000"/>
<rect x="1036" y="132" width="6" height="17" fill="#000"/>
<rect x="1037" y="133" width="4" height="15" fill="#fff"/>
<rect x="1046" y="119" width="1" height="23" fill="#000"/>
<rect x="1044" y="122" width="6" height="2" fill="#000"/>
<rect x="1054" y="103" width="1" height="45" fill="#000"/>
<rect x="1052" y="108" width="6" height="33" fill="#000"/>
<rect x="1062" y="110" width="1" height="42" fill="#000"/>
<rect x="1060" y="110" width="6" height="34" fill="#000"/>
<rect x="1061" y="111" width="4" height="32" fill="#fff"/>
<rect x="1069" y="97" width="1" height="19" fill="#000"/>
<rect x="1067" y="98" width="6" height="16" fill="#000"/>
<rect x="1077" y="102" width="1" height="27" fill="#000"/>
<rect x="1075" y="102" width="6" height="3" fill="#000"/>
<rect x="1085" y="90" width="1" height="20" fill="#000"/>
<rect x="1083" y="95" width="6" height="13" fill="#000"/>
<rect x="1084" y="96" width="4" height="11" fill="#fff"/>
<rect x="1092" y="67" width="1" height="23" fill="#000"/>
<rect x="1090" y="67" width="6" height="22" fill="#000"/>
<rect x="1091" y="68" width="4" height="20" fill="#fff"/>
<rect x="1100" y="64" width="1" height="84" fill="#000"/>
<rect x="1098" y="64" width="6" height="84" fill="#000"/>
<rect x="1108" y="125" width="1" height="38" fill="#000"/>
<rect x="1106" y="135" width="6" height="3" fill="#000"/>
<rect x="1116" y="125" width="1" height="42" fill="#000"/>
<rect x="1114" y="127" width="6" height="27" fill="#000"/>
<rect x="1123" y="147" width="1" height="23" fill="#000"/>
<rect x="1121" y="150" width="6" height="6" fill="#000"/>
<rect x="1131" y="110" width="1" height="52" fill="#000"/>
<rect x="1129" y="113" width="6" height="43" fill="#000"/>
<rect x="1130" y="114" width="4" height="41" fill="#fff"/>
<rect x="1139" y="31" width="1" height="81" fill="#000"/>
<rect x="1137" y="73" width="6" height="16" fill="#000"/>
<rect x="1138" y="74" width="4" height="14" fill="#fff"/>
<rect x="1146" y="35" width="1" height="32" fill="#000"/>
<rect x="1144" y="38" width="6" height="21" fill="#000"/>
<rect x="1145" y="39" width="4" height="19" fill="#fff"/>
<rect x="1154" y="18" width="1" height="28" fill="#000"/>
<rect x="1152" y="22" width="6" height="4" fill="#000"/>
<rect x="1201" y="0" width="1" height="861" fill="#000"/>
<rect x="0" y="682" width="1202" height="1" fill="#000"/>
<rect x="0" y="704" width="1282" height="1" fill="#000"/>
<rect x="1202" y="9" width="4" height="1" fill="#000"/>
<rect x="1202" y="62" width="4" height="1" fill="#000"/>
<rect x="1202" y="116" width="4" height="1" fill="#000"/>
<rect x="1202" y="170" width="4" height="1" fill="#000"/>
<rect x="1202" y="223" width="4" height="1" fill="#000"/>
<rect x="1202" y="277" width="4" height="1" fill="#000"/>
<rect x="1202" y="330" width="4" height="1" fill="#000"/>
<rect x="1202" y="384" width="4" height="1" fill="#000"/>
<rect x="1202" y="437" width="4" height="1" fill="#000"/>
<rect x="1202" y="491" width="4" height="1" fill="#000"/>
<rect x="1202" y="545" width="4" height="1" fill="#000"/>
<rect x="1202" y="598" width="4" height="1" fill="#000"/>
<rect x="1202" y="652" width="4" height="1" fill="#000"/>
<rect x="1202" y="712" width="4" height="1" fill="#000"/>
<rect x="1202" y="737" width="4" height="1" fill="#000"/>
<rect x="1202" y="762" width="4" height="1" fill="#000"/>
<rect x="1202" y="787" width="4" height="1" fill="#000"/>
<rect x="1202" y="813" width="4" height="1" fill="#000"/>
<rect x="1202" y="838" width="4" height="1" fill="#000"/>
<rect x="27" y="682" width="1" height="6" fill="#000"/>
<rect x="158" y="682" width="1" height="6" fill="#000"/>
<rect x="313" y="682" width="1" height="6" fill="#000"/>
<rect x="475" y="682" width="1" height="6" fill="#000"/>
<rect x="629" y="682" width="1" height="6" fill="#000"/>
<rect x="784" y="682" width="1" height="6" fill="#000"/>
<rect x="946" y="682" width="1" height="6" fill="#000"/>
<rect x="1123" y="682" width="1" height="6" fill="#000"/>
</g>
<g>
<text transform="translate(1281 15.7) scale(1 1.08)" text-anchor="end" fill="#000" font-size="17.33">1,750</text>
<text transform="translate(1281 68.7) scale(1 1.08)" text-anchor="end" fill="#000" font-size="17.33">1,700</text>
<text transform="translate(1281 122.7) scale(1 1.08)" text-anchor="end" fill="#000" font-size="17.33">1,650</text>
<text transform="translate(1281 176.7) scale(1 1.08)" text-anchor="end" fill="#000" font-size="17.33">1,600</text>
<text transform="translate(1281 229.7) scale(1 1.08)" text-anchor="end" fill="#000" font-size="17.33">1,550</text>
<text transform="translate(1281 283.7) scale(1 1.08)" text-anchor="end" fill="#000" font-size="17.33">1,500</text>
<text transform="translate(1281 336.7) scale(1 1.08)" text-anchor="end" fill="#000" font-size="17.33">1,450</text>
<text transform="translate(1281 390.7) scale(1 1.08)" text-anchor="end" fill="#000" font-size="17.33">1,400</text>
<text transform="translate(1281 443.7) scale(1 1.08)" text-anchor="end" fill="#000" font-size="17.33">1,350</text>
<text transform="translate(1281 497.7) scale(1 1.08)" text-anchor="end" fill="#000" font-size="17.33">1,300</text>
<text transform="translate(1281 551.7) scale(1 1.08)" text-anchor="end" fill="#000" font-size="17.33">1,250</text>
<text transform="translate(1281 604.7) scale(1 1.08)" text-anchor="end" fill="#000" font-size="17.33">1,200</text>
<text transform="translate(1281 658.7) scale(1 1.08)" text-anchor="end" fill="#000" font-size="17.33">1,150</text>
<text transform="translate(1281 718.7) scale(1 1.08)" text-anchor="end" fill="#000" font-size="17.33">1,200M</text>
<text transform="translate(1281 743.7) scale(1 1.08)" text-anchor="end" fill="#000" font-size="17.33">1,000M</text>
<text transform="translate(1281 768.7) scale(1 1.08)" text-anchor="end" fill="#000" font-size="17.33">800M</text>
<text transform="translate(1281 793.7) scale(1 1.08)" text-anchor="end" fill="#000" font-size="17.33">600M</text>
<text transform="translate(1281 819.7) scale(1 1.08)" text-anchor="end" fill="#000" font-size="17.33">400M</text>
<text transform="translate(1281 844.7) scale(1 1.08)" text-anchor="end" fill="#000" font-size="17.33">200M</text>
<text transform="translate(30.2 699) scale(1 1.08)" text-anchor="start" fill="#000" font-weight="bold" font-size="17.7">2025</text>
<text transform="translate(161.2 699) scale(1 1.08)" text-anchor="start" fill="#000" font-size="17.7">Feb</text>
<text transform="translate(316.2 699) scale(1 1.08)" text-anchor="start" fill="#000" font-size="17.7">Mar</text>
<text transform="translate(478.2 699) scale(1 1.08)" text-anchor="start" fill="#000" font-size="17.7">Apr</text>
<text transform="translate(632.2 699) scale(1 1.08)" text-anchor="start" fill="#000" font-size="17.7">May</text>
<text transform="translate(787.2 699) scale(1 1.08)" text-anchor="start" fill="#000" font-size="17.7">Jun</text>
<text transform="translate(949.2 699) scale(1 1.08)" text-anchor="start" fill="#000" font-size="17.7">Jul</text>
<text transform="translate(1126.2 699) scale(1 1.08)" text-anchor="start" fill="#000" font-size="17.7">Aug</text>
</g>
<g>
<polygon points="1202,25.5 1212,15 1282,15 1282,36 1212,36" fill="#000"/>
<text transform="translate(1219 32.2) scale(1 1.08)" fill="#fff" font-size="17.33">1,734.85</text>
<rect x="1212" y="110" width="70" height="21" fill="#0000ff"/>
<text transform="translate(1219 127) scale(1 1.08)" fill="#fff" font-size="17.33">1,646.65</text>
<polygon points="1202,780.5 1212,770 1282,770 1282,791 1212,791" fill="#8080c0"/>
<text transform="translate(1213 787) scale(1 1.08)" fill="#000" font-size="17.33">637,647,</text>
</g>
</svg>
</body></html>
